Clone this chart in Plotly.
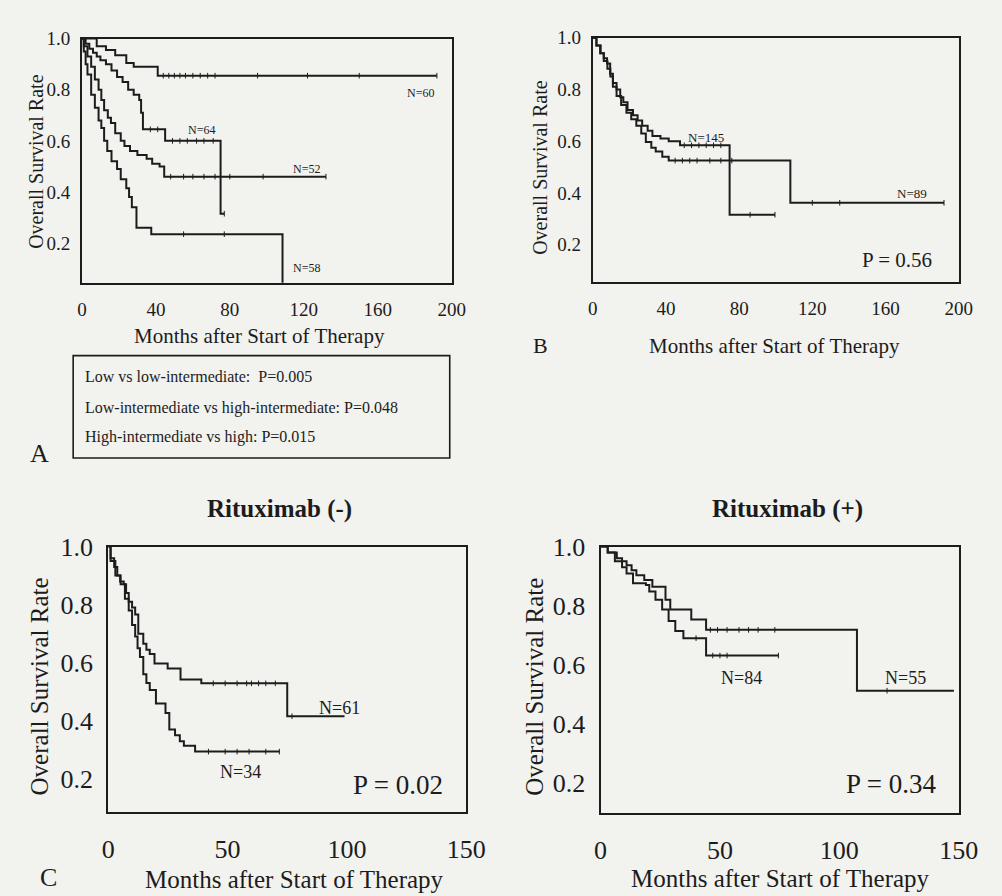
import plotly.graph_objects as go

# ---------------- DATA ----------------
# Panel A (IPI risk groups)
a60_t = [0, 8, 13, 18, 24, 28, 41, 192]
a60_s = [1, 0.97, 0.955, 0.935, 0.905, 0.89, 0.855, 0.855]
a60_c = [44, 47, 50, 53, 56, 60, 64, 68, 72, 95, 122, 150, 192]

a64_t = [0, 2, 4, 6, 8, 10, 13, 16, 19, 22, 25, 28, 31, 32, 33, 45, 75, 77]
a64_s = [1, 0.98, 0.96, 0.945, 0.93, 0.915, 0.90, 0.875, 0.85, 0.83, 0.80, 0.78, 0.76, 0.71, 0.645, 0.60, 0.315, 0.315]
a64_c = [37, 41, 49, 53, 57, 62, 66, 71, 77]

a52_t = [0, 1, 3, 5, 7, 9, 10.5, 12, 14, 15.7, 18, 21, 23, 26, 30, 35, 38, 42, 44.5, 132]
a52_s = [1, 0.97, 0.93, 0.89, 0.84, 0.80, 0.76, 0.72, 0.69, 0.67, 0.63, 0.60, 0.58, 0.56, 0.545, 0.53, 0.51, 0.50, 0.46, 0.46]
a52_c = [48, 55, 60, 66, 72, 80, 98, 132]

a58_t = [0, 1, 2, 3, 5, 7, 9, 10.5, 12, 13.7, 16, 19, 21, 24, 25.5, 27, 29.5, 37.5, 108.5]
a58_s = [1, 0.95, 0.90, 0.86, 0.78, 0.73, 0.68, 0.65, 0.60, 0.56, 0.52, 0.49, 0.45, 0.415, 0.38, 0.34, 0.26, 0.235, 0.0]
a58_c = [55, 77]

# Panel B
b145_t = [0, 2, 4.3, 6, 7.8, 9.5, 11, 13, 15, 16.7, 19, 22, 24.5, 27, 30, 32.6, 37, 41.5, 47.7, 74.8, 99.6]
b145_s = [1, 0.97, 0.94, 0.92, 0.90, 0.86, 0.825, 0.80, 0.77, 0.75, 0.72, 0.70, 0.68, 0.66, 0.64, 0.62, 0.61, 0.60, 0.584, 0.316, 0.316]
b145_c = [50, 54, 58, 62, 66, 70, 86, 99.6]

b89_t = [0, 2, 4, 6, 8, 9.6, 11, 13, 15.5, 18.4, 21, 23.8, 26.5, 29, 32, 34.4, 38, 41.5, 108, 192]
b89_s = [1, 0.97, 0.94, 0.91, 0.88, 0.85, 0.81, 0.775, 0.74, 0.71, 0.685, 0.66, 0.63, 0.597, 0.575, 0.56, 0.54, 0.525, 0.362, 0.362]
b89_c = [45, 49, 53, 57, 64, 70, 76, 120, 135, 192]

# Panel C (Rituximab -)
c61_t = [0, 1, 2.5, 3.8, 5, 6.5, 7.5, 8.6, 10, 11.3, 12.6, 14.7, 16, 17.4, 19.4, 24.9, 30.3, 39, 75, 99]
c61_s = [1, 0.96, 0.93, 0.90, 0.88, 0.87, 0.84, 0.81, 0.79, 0.766, 0.70, 0.665, 0.645, 0.63, 0.597, 0.58, 0.542, 0.529, 0.416, 0.416]
c61_c = [44, 49, 54, 58, 60, 63, 66, 70, 77]

c34_t = [0, 1, 3, 5.2, 7, 8.6, 10, 11.3, 12.3, 13.3, 14.7, 16, 17.4, 20, 24, 25.6, 28, 30, 31.7, 36.4, 71.7]
c34_s = [1, 0.95, 0.90, 0.87, 0.82, 0.78, 0.73, 0.69, 0.65, 0.62, 0.56, 0.53, 0.506, 0.46, 0.427, 0.37, 0.35, 0.33, 0.314, 0.294, 0.294]
c34_c = [42, 49, 54, 59, 66, 71.7]

# Panel D (Rituximab +)
d55_t = [0, 3, 6.8, 9, 10.9, 13, 15, 18.3, 21.7, 27.2, 29.2, 38, 44.2, 107.4, 148]
d55_s = [1, 0.98, 0.96, 0.95, 0.937, 0.92, 0.903, 0.887, 0.864, 0.82, 0.787, 0.753, 0.718, 0.512, 0.512]
d55_c = [46, 49, 53, 58, 62, 66, 73, 120]

d84_t = [0, 3, 6, 9, 10.9, 13.6, 19, 20.4, 23, 25.8, 28.5, 31.3, 34.7, 44.2, 74.5]
d84_s = [1, 0.98, 0.95, 0.93, 0.909, 0.876, 0.87, 0.848, 0.82, 0.787, 0.748, 0.714, 0.69, 0.631, 0.631]
d84_c = [40, 47, 50, 53, 74.5]

y_ticks = [0.2, 0.4, 0.6, 0.8, 1.0]
x_ticks_ab = [0, 40, 80, 120, 160, 200]
x_ticks_cd = [0, 50, 100, 150]

# ---------------- STYLE / LAYOUT ----------------
W, H = 1002, 896
BG = "#f2f2ef"
INK = "#1c1c1c"
SERIF = "Liberation Serif"


def fx(p):
    return p / W


def fy(p):
    return 1 - p / H


def surv_at(ts, ss, t):
    v = ss[0]
    for ti, si in zip(ts, ss):
        if ti <= t:
            v = si
    return v


fig = go.Figure()

curves = [
    ("x", "y", a60_t, a60_s, a60_c),
    ("x", "y", a64_t, a64_s, a64_c),
    ("x", "y", a52_t, a52_s, a52_c),
    ("x", "y", a58_t, a58_s, a58_c),
    ("x2", "y2", b145_t, b145_s, b145_c),
    ("x2", "y2", b89_t, b89_s, b89_c),
    ("x3", "y3", c61_t, c61_s, c61_c),
    ("x3", "y3", c34_t, c34_s, c34_c),
    ("x4", "y4", d55_t, d55_s, d55_c),
    ("x4", "y4", d84_t, d84_s, d84_c),
]

for xa, ya, ts, ss, cs in curves:
    fig.add_trace(go.Scatter(
        x=ts, y=ss, mode="lines", xaxis=xa, yaxis=ya,
        line=dict(shape="hv", color=INK, width=2),
        showlegend=False, hoverinfo="skip"))
    fig.add_trace(go.Scatter(
        x=cs, y=[surv_at(ts, ss, c) for c in cs], mode="markers",
        xaxis=xa, yaxis=ya,
        marker=dict(symbol="line-ns", size=4, line=dict(color=INK, width=1)),
        showlegend=False, hoverinfo="skip"))


def xax(dom, rng, ticks, fs, stand):
    return dict(domain=dom, range=rng, tickvals=ticks, ticktext=[str(t) for t in ticks],
                showline=True, mirror=True, linecolor=INK, linewidth=2,
                ticks="", showgrid=False, zeroline=False,
                tickfont=dict(family=SERIF, size=fs, color=INK),
                ticklabelstandoff=stand, fixedrange=True)


def yax(dom, rng, fs, stand):
    return dict(domain=dom, range=rng, tickvals=y_ticks, ticktext=["%.1f" % v for v in y_ticks],
                showline=True, mirror=True, linecolor=INK, linewidth=2,
                ticks="", showgrid=False, zeroline=False,
                tickfont=dict(family=SERIF, size=fs, color=INK),
                ticklabelstandoff=stand, fixedrange=True)


layout = dict(
    width=W, height=H, autosize=False,
    margin=dict(l=0, r=0, t=0, b=0),
    paper_bgcolor=BG, plot_bgcolor=BG,
    showlegend=False,
    xaxis=dict(xax([fx(77), fx(457)], [0, 200], x_ticks_ab, 19, 8), anchor="y"),
    yaxis=dict(yax([fy(273), fy(25)], [0.045, 1.0], 19, 6), anchor="x"),
    xaxis2=dict(xax([fx(602), fx(978)], [0, 200], x_ticks_ab, 19, 8), anchor="y2"),
    yaxis2=dict(yax([fy(272), fy(24)], [0.057, 1.0], 19, 6), anchor="x2"),
    xaxis3=dict(xax([fx(104), fx(472)], [0, 150], x_ticks_cd, 26, 12), anchor="y3"),
    yaxis3=dict(yax([fy(811), fy(541)], [0.085, 1.0], 26, 8), anchor="x3"),
    xaxis4=dict(xax([fx(610), fx(978)], [0, 150], x_ticks_cd, 26, 12), anchor="y4"),
    yaxis4=dict(yax([fy(812), fy(541)], [0.097, 1.0], 26, 8), anchor="x4"),
)
fig.update_layout(**layout)


def note(text, x, y, size, angle=0, bold=False, xanchor="center"):
    fig.add_annotation(
        text=("<b>%s</b>" % text) if bold else text,
        x=fx(x), y=fy(y), xref="paper", yref="paper",
        xanchor=xanchor, yanchor="middle", showarrow=False, textangle=angle,
        font=dict(family=SERIF, size=size, color=INK))


# axis titles
note("Overall Survival Rate", 29, 150, 20, angle=-90)
note("Months after Start of Therapy", 259, 327, 21)
note("Overall Survival Rate", 547, 156, 20, angle=-90)
note("Months after Start of Therapy", 789, 337, 21)
note("Overall Survival Rate", 33, 683, 25, angle=-90)
note("Months after Start of Therapy", 295, 879, 25)
note("Overall Survival Rate", 542, 683, 25, angle=-90)
note("Months after Start of Therapy", 795, 878, 25)

# panel titles / letters
note("Rituximab (-)", 280, 503, 25, bold=True)
note("Rituximab (+)", 802, 503, 25, bold=True)
note("A", 33, 446, 26)
note("B", 548, 337, 22)
note("C", 43, 877, 26)

# curve labels
note("N=60", 425, 80, 12)
note("N=64", 200, 118, 12)
note("N=52", 308, 157, 12)
note("N=58", 308, 258, 12)
note("N=145", 718, 125, 13)
note("N=89", 930, 182, 13)
note("N=61", 342, 705, 18)
note("N=34", 240, 770, 18)
note("N=84", 755, 675, 18)
note("N=55", 923, 675, 18)

# p values
note("P = 0.56", 915, 250, 21)
note("P = 0.02", 402, 783, 27)
note("P = 0.34", 908, 782, 27)

# comparison box in panel A
fig.add_shape(type="rect", xref="paper", yref="paper",
              x0=fx(68), x1=fx(455), y0=fy(451), y1=fy(347),
              line=dict(color=INK, width=1.6), fillcolor="rgba(0,0,0,0)")
note("Low vs low-intermediate:  P=0.005", 78, 368, 16, xanchor="left")
note("Low-intermediate vs high-intermediate: P=0.048", 78, 400, 16, xanchor="left")
note("High-intermediate vs high: P=0.015", 78, 430, 16, xanchor="left")

fig.write_html("out.html")
